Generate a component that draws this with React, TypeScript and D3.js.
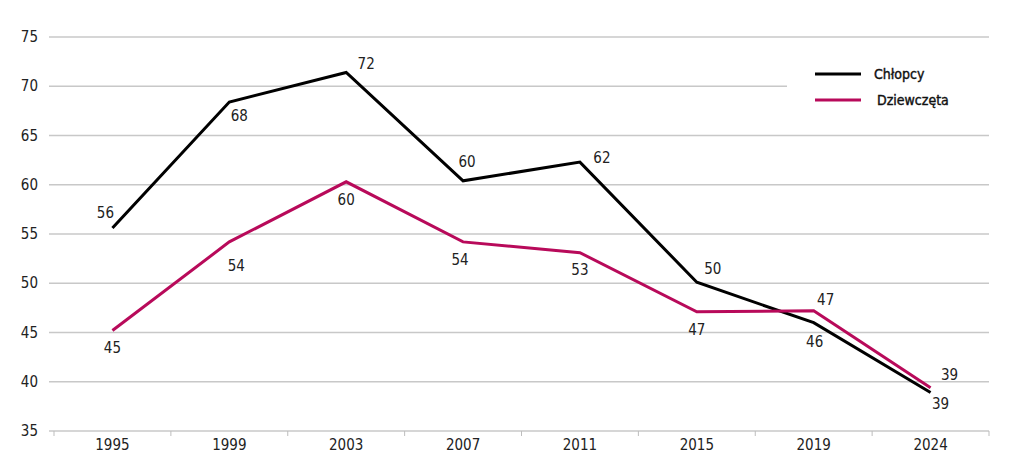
import React, { useEffect, useRef } from 'react'
import * as d3 from 'd3'

const years = ['1995', '1999', '2003', '2007', '2011', '2015', '2019', '2024']
const boys = [55.6, 68.4, 71.4, 60.4, 62.3, 50.1, 46.0, 38.9]
const boysLabels = ['56', '68', '72', '60', '62', '50', '46', '39']
const girls = [45.2, 54.2, 60.3, 54.2, 53.1, 47.1, 47.2, 39.4]
const girlsLabels = ['45', '54', '60', '54', '53', '47', '47', '39']
const yTicks = [35, 40, 45, 50, 55, 60, 65, 70, 75]

// label offsets (dx, dy) from each point
const boysOff = [[-7, -15], [10, 14], [20, -8], [4, -19], [22, -4], [16, -13], [1, 19], [10, 11]]
const girlsOff = [[0, 17], [7, 24], [0, 18], [-3, 18], [0, 17], [0, 18], [12, -11], [19, -13]]

const FONT = "'Liberation Sans Narrow', 'DejaVu Sans Condensed', 'Roboto Condensed', sans-serif"
const CRIMSON = '#b80a5a'

export default function App() {
  const ref = useRef<SVGSVGElement | null>(null)

  useEffect(() => {
    const svg = d3.select(ref.current)
    svg.selectAll('*').remove()
    const width = 1024
    const height = 465
    const left = 54, right = 989, top = 37, bottom = 431

    const x = d3.scaleBand().domain(years).range([left, right])
    const y = d3.scaleLinear().domain([35, 75]).range([bottom, top])
    const cx = (d: string) => (x(d) || 0) + x.bandwidth() / 2

    svg.attr('viewBox', `0 0 ${width} ${height}`)
    svg.append('rect').attr('width', width).attr('height', height).attr('fill', '#fff')

    // gridlines
    svg.append('g').selectAll('line').data(yTicks).enter().append('line')
      .attr('x1', 49).attr('x2', right)
      .attr('y1', d => y(d)).attr('y2', d => y(d))
      .attr('stroke', '#c8c8c8').attr('stroke-width', 1.3)

    // y labels
    svg.append('g').selectAll('text').data(yTicks).enter().append('text')
      .attr('x', 38).attr('y', d => y(d))
      .attr('text-anchor', 'end').attr('dominant-baseline', 'central')
      .attr('font-family', FONT).attr('font-size', 15).attr('fill', '#222')
      .text(d => d)

    // x ticks between categories
    const tickXs = years.map(d => x(d) || 0).concat([right])
    svg.append('g').selectAll('line').data(tickXs).enter().append('line')
      .attr('x1', d => d).attr('x2', d => d)
      .attr('y1', bottom).attr('y2', bottom + 5)
      .attr('stroke', '#bdbdbd').attr('stroke-width', 1)

    svg.append('g').selectAll('text').data(years).enter().append('text')
      .attr('x', d => cx(d)).attr('y', bottom + 14)
      .attr('text-anchor', 'middle').attr('dominant-baseline', 'central')
      .attr('font-family', FONT).attr('font-size', 15).attr('fill', '#222')
      .text(d => d)

    // legend box covering gridline
    svg.append('rect').attr('x', 787).attr('y', 45).attr('width', right - 787 + 2).attr('height', 80).attr('fill', '#fff')

    const line = d3.line<number>().x((_, i) => cx(years[i])).y(v => y(v))

    const series = [
      { vals: boys, labels: boysLabels, off: boysOff, color: '#000' },
      { vals: girls, labels: girlsLabels, off: girlsOff, color: CRIMSON },
    ]
    series.forEach(s => {
      svg.append('path').datum(s.vals)
        .attr('fill', 'none').attr('stroke', s.color).attr('stroke-width', 3)
        .attr('stroke-linejoin', 'miter').attr('d', line)
    })
    series.forEach(s => {
      svg.append('g').selectAll('text').data(s.vals).enter().append('text')
        .attr('x', (v, i) => cx(years[i]) + s.off[i][0])
        .attr('y', (v, i) => y(v) + s.off[i][1])
        .attr('text-anchor', 'middle').attr('dominant-baseline', 'central')
        .attr('font-family', FONT).attr('font-size', 15).attr('fill', '#222')
        .text((v, i) => s.labels[i])
    })

    // legend
    const legend = [
      { name: 'Chłopcy', color: '#000', y: 74, tx: 874 },
      { name: 'Dziewczęta', color: CRIMSON, y: 100, tx: 877 },
    ]
    legend.forEach(l => {
      svg.append('line').attr('x1', 815).attr('x2', 861).attr('y1', l.y).attr('y2', l.y)
        .attr('stroke', l.color).attr('stroke-width', 3)
      svg.append('text').attr('x', l.tx).attr('y', l.y)
        .attr('dominant-baseline', 'central')
        .attr('font-family', FONT).attr('font-size', 14)
        .attr('fill', '#111').attr('stroke', '#111').attr('stroke-width', 0.4)
        .text(l.name)
    })
  }, [])

  return (
    <svg ref={ref} width={1024} height={465}
      style={{ position: 'absolute', left: 0, top: 0, display: 'block' }} />
  )
}
